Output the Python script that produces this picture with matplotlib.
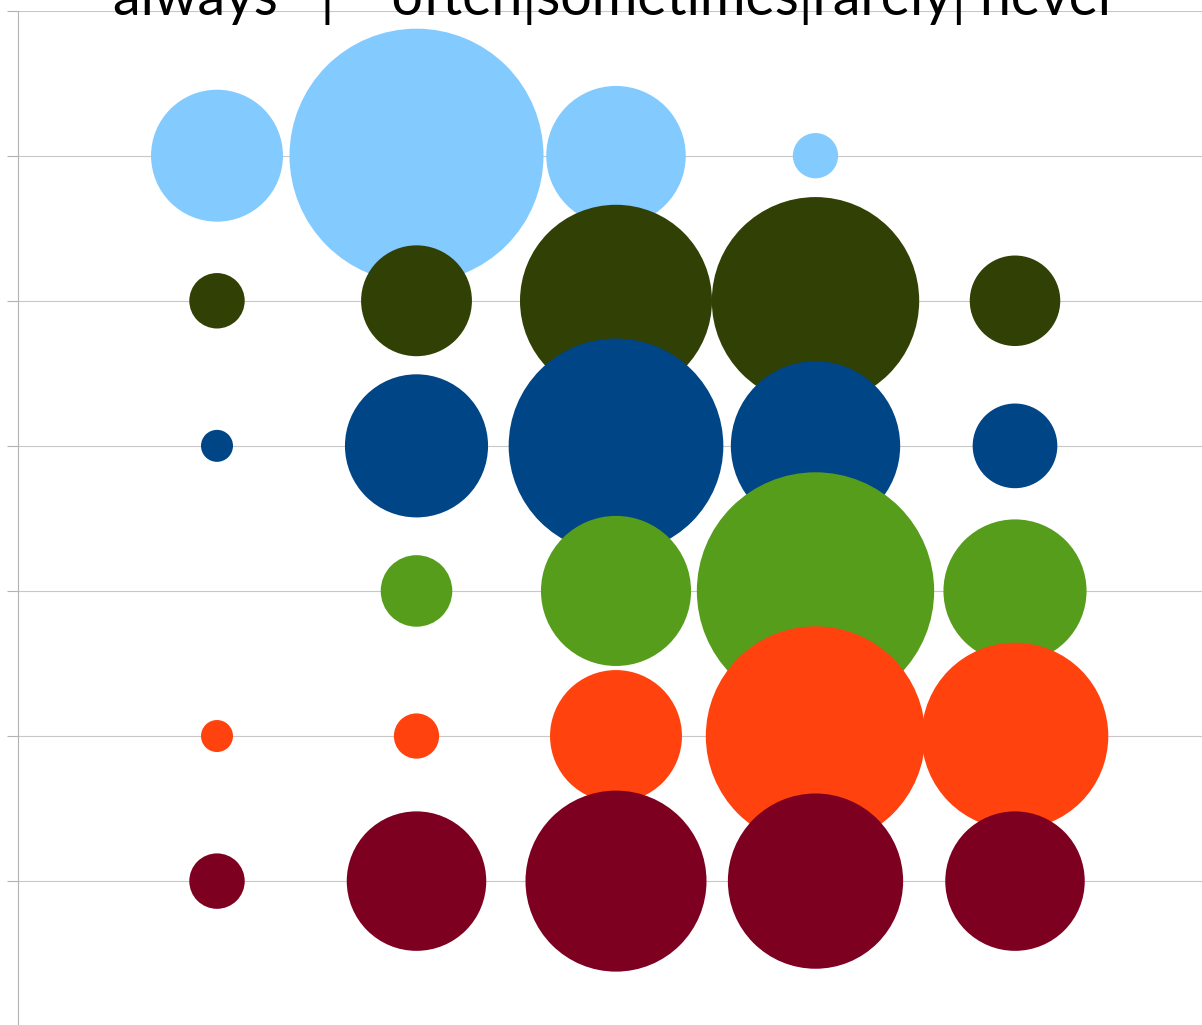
import numpy as np
import matplotlib
matplotlib.use("Agg")
import matplotlib.pyplot as plt

# ---- data ----
answers = ["always", "often", "sometimes", "rarely", "never"]
x_pos = [1, 2, 3, 4, 5]
row_y = [6, 5, 4, 3, 2, 1]                      # one row per question, top to bottom
row_colors = ["#83CAFF", "#314004", "#004586", "#579D1C", "#FF420E", "#7E0021"]

q1 = [17, 63, 19, 2, 0]
q2 = [3, 12, 36, 42, 8]
q3 = [1, 20, 45, 28, 7]
q4 = [0, 5, 22, 55, 20]
q5 = [1, 2, 17, 47, 34]
q6 = [3, 19, 32, 30, 19]
rows = [q1, q2, q3, q4, q5, q6]

title = "always   |    often|sometimes|rarely| never"

# ---- figure ----
W, H, DPI = 1202, 1025, 100
fig = plt.figure(figsize=(W / DPI, H / DPI), dpi=DPI)

# plot area: x=0 at 17.5px, one unit = 199.5px ; y=0 at 1026px, one unit = 145.2px
ax = fig.add_axes([17.5 / W, (H - 1026.2) / H, 6 * 199.5 / W, 1015.6 / H])
ax.set_xlim(0, 6)
ax.set_ylim(0, 7)

# bubble area ~ value, value 1 -> radius 16px
unit_s = (2 * 16 * 72 / DPI) ** 2
for vals, yy, col in zip(rows, row_y, row_colors):
    v = np.array(vals, dtype=float)
    keep = v > 0
    ax.scatter(np.array(x_pos)[keep], np.full(keep.sum(), yy), s=v[keep] * unit_s,
               color=col, linewidths=0, zorder=3, clip_on=False)

ax.set_yticks(range(0, 8))
ax.set_yticklabels([])
ax.set_xticks([])
ax.tick_params(axis="y", direction="out", length=8, width=0.8, color="#b3b3b3")
ax.grid(axis="y", color="#c8c8c8", lw=0.8, zorder=0)
ax.set_axisbelow(True)
for side in ["top", "right", "bottom"]:
    ax.spines[side].set_visible(False)
ax.spines["left"].set_color("#b3b3b3")
ax.spines["left"].set_linewidth(0.8)

fig.text(615.5 / W, (H - 15) / H, title, ha="center", va="baseline",
         fontsize=40, family="Lato", color="black")

fig.savefig("out.png", dpi=DPI)
